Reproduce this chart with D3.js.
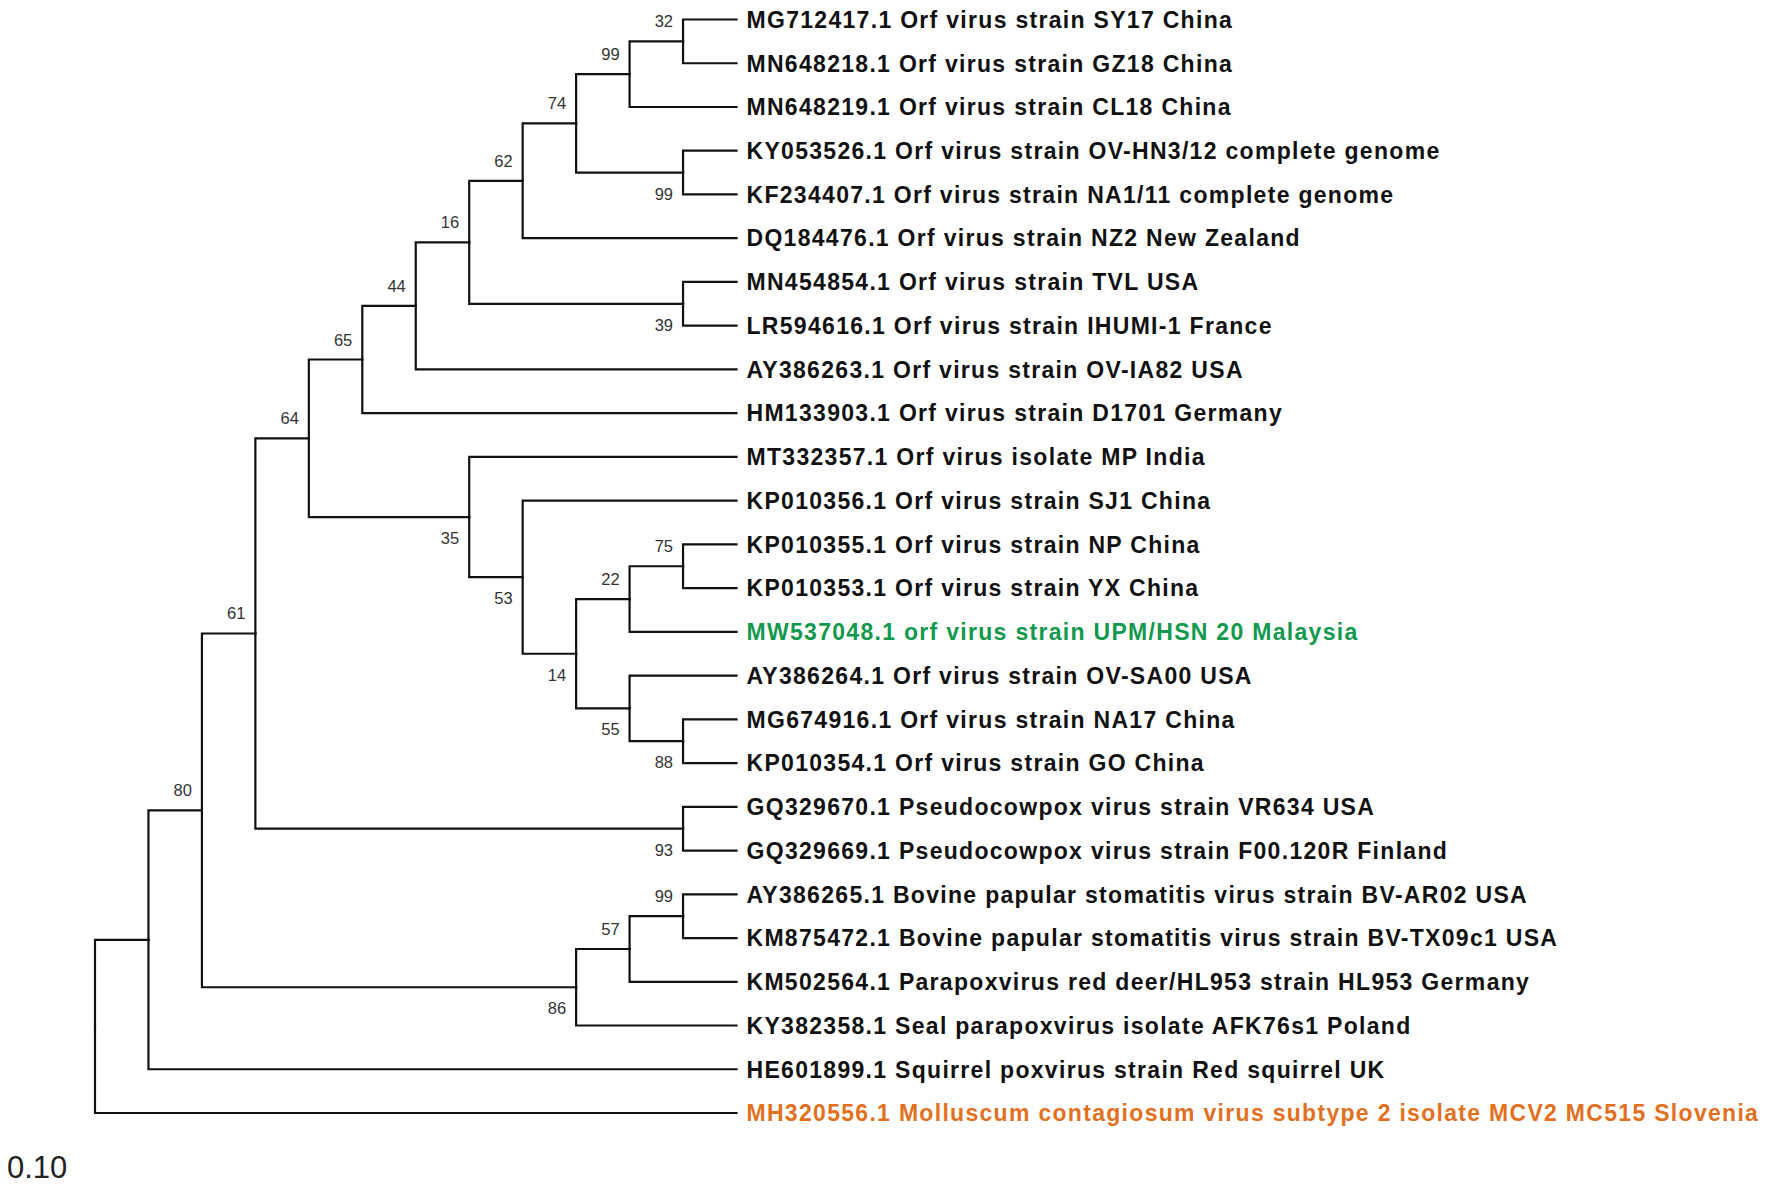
<!DOCTYPE html>
<html>
<head>
<meta charset="utf-8">
<script src="https://cdn.jsdelivr.net/npm/d3@7/dist/d3.min.js"></script>
<style>
  html, body { margin: 0; padding: 0; background: #ffffff; }
  svg { display: block; }
</style>
</head>
<body>
<svg id="chart" width="1772" height="1186"></svg>
<script>
// ---------------- DATA ----------------
const taxa = [
  "MG712417.1 Orf virus strain SY17 China",
  "MN648218.1 Orf virus strain GZ18 China",
  "MN648219.1 Orf virus strain CL18 China",
  "KY053526.1 Orf virus strain OV-HN3/12 complete genome",
  "KF234407.1 Orf virus strain NA1/11 complete genome",
  "DQ184476.1 Orf virus strain NZ2 New Zealand",
  "MN454854.1 Orf virus strain TVL USA",
  "LR594616.1 Orf virus strain IHUMI-1 France",
  "AY386263.1 Orf virus strain OV-IA82 USA",
  "HM133903.1 Orf virus strain D1701 Germany",
  "MT332357.1 Orf virus isolate MP India",
  "KP010356.1 Orf virus strain SJ1 China",
  "KP010355.1 Orf virus strain NP China",
  "KP010353.1 Orf virus strain YX China",
  "MW537048.1 orf virus strain UPM/HSN 20 Malaysia",
  "AY386264.1 Orf virus strain OV-SA00 USA",
  "MG674916.1 Orf virus strain NA17 China",
  "KP010354.1 Orf virus strain GO China",
  "GQ329670.1 Pseudocowpox virus strain VR634 USA",
  "GQ329669.1 Pseudocowpox virus strain F00.120R Finland",
  "AY386265.1 Bovine papular stomatitis virus strain BV-AR02 USA",
  "KM875472.1 Bovine papular stomatitis virus strain BV-TX09c1 USA",
  "KM502564.1 Parapoxvirus red deer/HL953 strain HL953 Germany",
  "KY382358.1 Seal parapoxvirus isolate AFK76s1 Poland",
  "HE601899.1 Squirrel poxvirus strain Red squirrel UK",
  "MH320556.1 Molluscum contagiosum virus subtype 2 isolate MCV2 MC515 Slovenia"
];

// Topology (Newick, leaves = indices into taxa, internal labels = bootstrap %)
const topology =
  "((((((((((((0,1)32,2)99,(3,4)99)74,5)62,(6,7)39)16,8)44,9)65," +
  "(10,(11,(((12,13)75,14)22,(15,(16,17)88)55)14)53)35)64,(18,19)93)61," +
  "(((20,21)99,22)57,23)86)80,24),25);";

// Highlighted taxa
const highlightIdx = [14, 25];
const highlightColors = ["#12994e", "#e2701e"];

const scaleLabel = "0.10";

// ---------------- PARSER ----------------
function parseNewick(s) {
  let i = 0;
  function node() {
    const n = {};
    if (s[i] === "(") {
      i++;
      n.children = [];
      n.children.push(node());
      while (s[i] === ",") { i++; n.children.push(node()); }
      i++; // ')'
    }
    let lab = "";
    while (i < s.length && !",();".includes(s[i])) lab += s[i++];
    if (n.children) n.support = lab === "" ? null : +lab;
    else n.leaf = +lab;
    return n;
  }
  return node();
}

// ---------------- LAYOUT ----------------
const svg = d3.select("#chart");
const root = d3.hierarchy(parseNewick(topology));

const xScale = d3.scaleLinear().domain([0, root.height]).range([736.5, 95]);
const yScale = d3.scaleLinear().domain([0, taxa.length - 1]).range([19.5, 1113]);

root.eachAfter(d => {
  d.x = xScale(d.height);
  if (!d.children) d.y = yScale(d.data.leaf);
  else d.y = (d.children[0].y + d.children[d.children.length - 1].y) / 2;
});

// ---------------- BRANCHES ----------------
const g = svg.append("g");
g.selectAll("path.branch")
  .data(root.links())
  .join("path")
  .attr("class", "branch")
  .attr("d", l => `M${l.source.x},${l.source.y}V${l.target.y}H${l.target.x}`)
  .attr("fill", "none")
  .attr("stroke", "#111")
  .attr("stroke-width", 2.2)
  .attr("stroke-linecap", "square");

// ---------------- LEAF LABELS ----------------
g.selectAll("text.taxon")
  .data(root.leaves())
  .join("text")
  .attr("class", "taxon")
  .attr("x", d => d.x + 10)
  .attr("y", d => d.y)
  .attr("dy", "0.36em")
  .attr("font-family", "'Liberation Sans', Arial, sans-serif")
  .attr("font-weight", "bold")
  .attr("font-size", 23)
  .attr("letter-spacing", "1.3px")
  .attr("fill", d => {
    const k = highlightIdx.indexOf(d.data.leaf);
    return k >= 0 ? highlightColors[k] : "#111";
  })
  .text(d => taxa[d.data.leaf]);

// ---------------- BOOTSTRAP LABELS ----------------
g.selectAll("text.support")
  .data(root.descendants().filter(d => d.children && d.data.support != null))
  .join("text")
  .attr("class", "support")
  .attr("x", d => d.x - 10)
  .attr("y", d => (d.parent && d.parent.children[0] === d) ? d.y - 14 : d.y + 27)
  .attr("text-anchor", "end")
  .attr("font-family", "'Liberation Sans', Arial, sans-serif")
  .attr("font-size", 16.5)
  .attr("fill", "#333")
  .text(d => d.data.support);

// ---------------- SCALE LABEL ----------------
svg.append("text")
  .attr("x", 7)
  .attr("y", 1167)
  .attr("dy", "0.36em")
  .attr("font-family", "'Liberation Sans', Arial, sans-serif")
  .attr("font-size", 31)
  .attr("fill", "#222")
  .text(scaleLabel);
</script>
</body>
</html>
